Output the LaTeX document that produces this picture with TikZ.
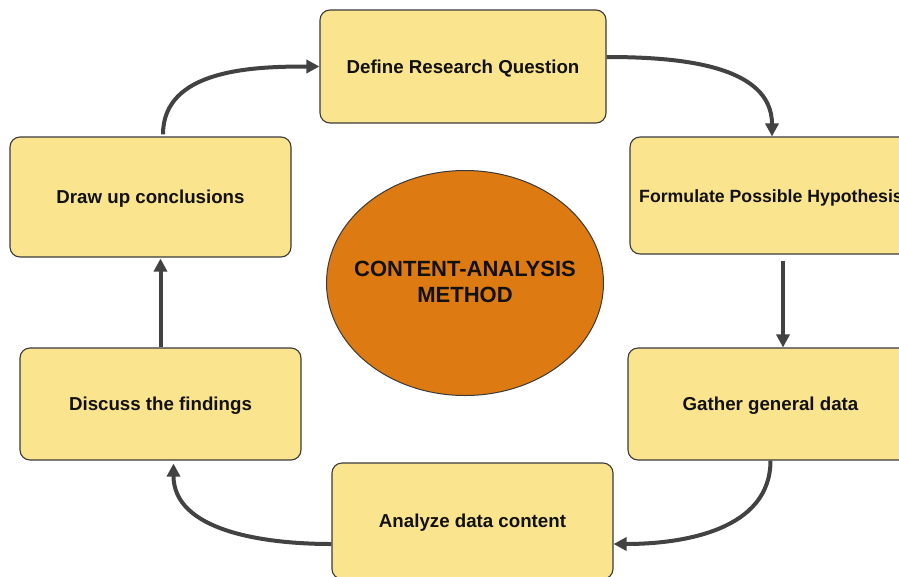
\documentclass[tikz,border=0pt]{standalone}
\usepackage{fontspec}
\setmainfont{Liberation Sans}
\usetikzlibrary{shapes.geometric,arrows.meta}
\definecolor{boxfill}{HTML}{FBE48E}
\definecolor{boxedge}{HTML}{3A3A3A}
\definecolor{hubfill}{HTML}{DD7A12}
\definecolor{flowcol}{HTML}{424242}
\definecolor{inkcol}{HTML}{111111}
\tikzset{
  stagebox/.style={draw=boxedge, line width=1.1pt, fill=boxfill, rounded corners=10pt,
    text=inkcol, font=\bfseries\fontsize{18.7}{22}\selectfont, inner sep=2pt,
    text height=15pt, text depth=2pt,
    minimum width=#1, minimum height=116pt, align=center},
  stagebox/.default=283pt,
  hub/.style={ellipse, draw=boxedge, line width=1pt, fill=hubfill,
    minimum width=277pt, minimum height=225pt, inner sep=0pt},
  hubtext/.style={text=inkcol, font=\bfseries\fontsize{22}{26}\selectfont,
    align=center, inner sep=0pt},
  flow/.style={draw=flowcol, line width=4pt,
    -{Triangle[length=13pt,width=13pt]}}
}
\begin{document}
\begin{tikzpicture}[x=1pt,y=-1pt]
  \useasboundingbox[fill=white] (0,0) rectangle (899,576);

  % central ellipse with its title
  \node[hub] (hub) at (465,283) {};
  \node[hubtext] (hubtitle) at ([yshift=1.5pt]hub.center) {CONTENT-ANALYSIS\\METHOD};

  % the six stages
  \node[stagebox=286pt, minimum height=113pt] (define)  at (463,66.5) {Define Research Question};
  \node[stagebox=282pt, minimum height=117pt, font=\bfseries\fontsize{17.7}{21}\selectfont]
    (formul)  at (771,195.5) {Formulate Possible Hypothesis};
  \node[stagebox=285pt, minimum height=112pt] (gather)  at (770.5,404) {Gather general data};
  \node[stagebox=281pt, minimum height=116pt] (analyze) at (472.5,521) {Analyze data content};
  \node[stagebox=281pt, minimum height=112pt] (discuss) at (160.5,404) {Discuss the findings};
  \node[stagebox=281pt, minimum height=120pt] (drawup)  at (150.5,197) {Draw up conclusions};

  % connectors around the cycle
  \draw[flow] ([yshift=9.5pt]define.east) to[out=0,in=90] ([xshift=1pt]formul.north);
  \draw[flow, shorten <=6pt] ([xshift=12pt]formul.south) -- ([xshift=12pt]formul.south |- gather.north);
  \draw[flow] (gather.south) to[out=-90,in=0] ([yshift=-23pt]analyze.east);
  \draw[flow, shorten >=3pt] ([yshift=-23pt]analyze.west) to[out=180,in=-90] ([xshift=13pt]discuss.south);
  \draw[flow, shorten >=1pt] (discuss.north) -- (discuss.north |- drawup.south);
  \draw[flow, shorten <=2pt] ([xshift=12.5pt]drawup.north) to[out=90,in=180] (define.west);
\end{tikzpicture}
\end{document}
